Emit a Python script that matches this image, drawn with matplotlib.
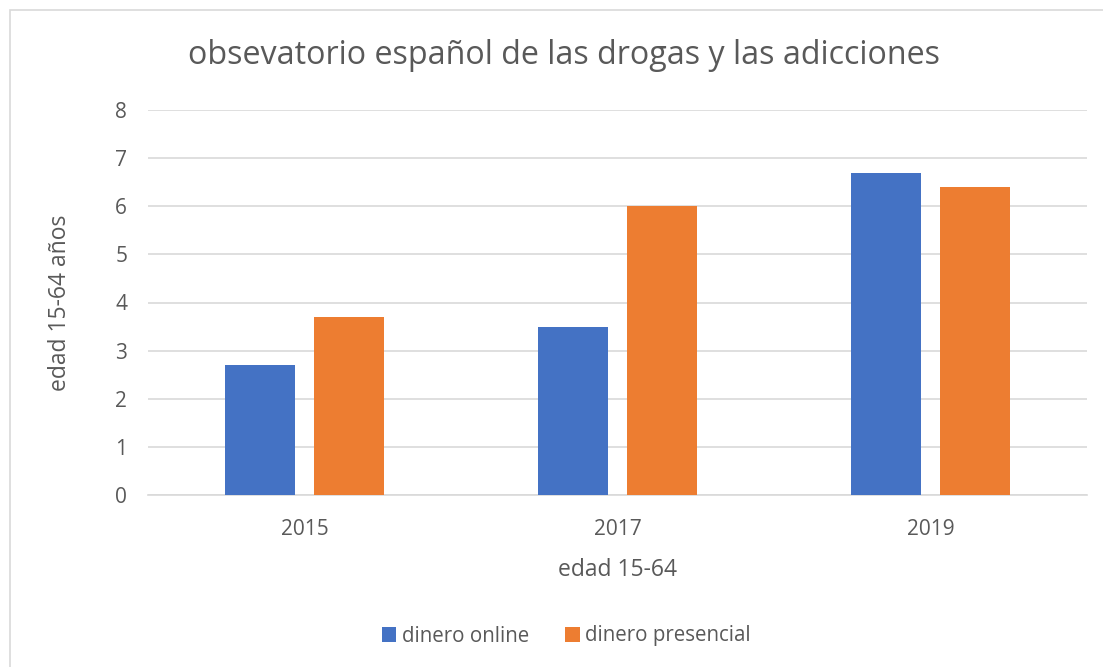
import matplotlib
matplotlib.use("Agg")
import matplotlib.pyplot as plt
import numpy as np
from matplotlib.patches import Rectangle

categories = ["2015", "2017", "2019"]
online = [2.7, 3.5, 6.7]
presencial = [3.7, 6.0, 6.4]
series_names = ["dinero online", "dinero presencial"]
yticks = [0, 1, 2, 3, 4, 5, 6, 7, 8]

plt.rcParams['font.family'] = ['Open Sans', 'DejaVu Sans']
W, H = 1103, 667
fig = plt.figure(figsize=(W/100, H/100), dpi=100)
ax = fig.add_axes([148/W, 1-495/H, (1087-148)/W, (495-110)/H])

x = np.arange(len(categories))
bw = 0.224
off = 0.142
ax.bar(x - off, online, bw, color="#4472C4", label=series_names[0], zorder=3)
ax.bar(x + off, presencial, bw, color="#ED7D31", label=series_names[1], zorder=3)

ax.set_xlim(-0.5, 2.5)
ax.set_ylim(0, 8)
ax.set_yticks(yticks)
ax.set_xticks(x)
ax.set_xticklabels(categories)
ax.grid(axis='y', color="#d9d9d9", linewidth=1.2, zorder=0)
for s in ["top", "right", "left"]:
    ax.spines[s].set_visible(False)
ax.spines["bottom"].set_color("#d9d9d9")
ax.spines["bottom"].set_linewidth(1.2)
ax.tick_params(axis='both', length=0, labelsize=15, labelcolor="#595959")
ax.tick_params(axis='y', pad=15)
ax.tick_params(axis='x', pad=17)

ax.set_xlabel("edad 15-64", fontsize=16.5, color="#595959", labelpad=13.5)
ax.set_ylabel("edad 15-64 años", fontsize=16.5, color="#595959", labelpad=31)

fig.text(564/W, 1-56/H, "obsevatorio español de las drogas y las adicciones",
         ha="center", va="center", fontsize=23.2, color="#595959")

leg = fig.legend(loc="center", bbox_to_anchor=(566/W, 1-636/H), ncol=2, frameon=False,
                 fontsize=14.8, handlelength=0.72, handleheight=0.72, handletextpad=0.25,
                 columnspacing=1.75)
for t in leg.get_texts():
    t.set_color("#595959")

fig.patches.append(Rectangle((10/W, -0.01), (W-10)/W + 0.01, 1-10/H + 0.01, transform=fig.transFigure,
                             fill=False, edgecolor="#d9d9d9", linewidth=1.2))

fig.savefig("out.png", dpi=100, facecolor="white")
